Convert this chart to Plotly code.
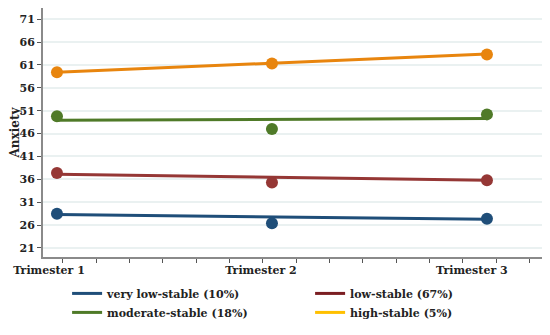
import plotly.graph_objects as go

trimesters = [1, 2, 3]
tick_labels = ["Trimester 1", "Trimester 2", "Trimester 3"]
series_names = ["very low-stable (10%)", "low-stable (67%)", "moderate-stable (18%)", "high-stable (5%)"]

observed_very_low = [28.5, 26.4, 27.4]
observed_low = [37.4, 35.3, 35.8]
observed_moderate = [49.8, 47.0, 50.2]
observed_high = [59.4, 61.3, 63.3]

fitted_very_low = [28.3, 27.8, 27.3]
fitted_low = [37.1, 36.45, 35.8]
fitted_moderate = [48.9, 49.1, 49.3]
fitted_high = [59.4, 61.4, 63.4]

colors = ["#1F4E79", "#953735", "#4F7A28", "#E8850E"]
legend_colors = ["#1F4E79", "#7B1E22", "#4F7A28", "#FFC000"]

observed = [observed_very_low, observed_low, observed_moderate, observed_high]
fitted = [fitted_very_low, fitted_low, fitted_moderate, fitted_high]

font_family = "DejaVu Serif"
txt = "#222222"

fig = go.Figure()
for name, obs, fit, c, lc in zip(series_names, observed, fitted, colors, legend_colors):
    fig.add_trace(go.Scatter(x=trimesters, y=fit, mode="lines",
                             line=dict(color=c, width=3), showlegend=False, hoverinfo="skip"))
    fig.add_trace(go.Scatter(x=trimesters, y=obs, mode="markers",
                             marker=dict(color=c, size=12), showlegend=False))
    fig.add_trace(go.Scatter(x=[None], y=[None], mode="lines", name=name,
                             line=dict(color=lc, width=3), showlegend=True))

fig.update_layout(
    width=550, height=335,
    margin=dict(l=35, r=13, t=0, b=86, autoexpand=False),
    plot_bgcolor="white", paper_bgcolor="white",
    font=dict(family=font_family, size=11, color=txt, weight="bold"),
    showlegend=True,
    legend=dict(orientation="h", x=0.048, y=-0.088, xanchor="left", yanchor="top",
                entrywidth=198, font=dict(family=font_family, size=11, color=txt, weight="bold"),
                itemwidth=30, tracegroupgap=0, traceorder="normal"),
)
fig.update_xaxes(
    range=[0.935, 3.27],
    tickvals=[0.963, 1.949, 2.93], ticktext=tick_labels,
    ticks="", showgrid=False, zeroline=False,
    showline=True, linecolor="#8A8A8A", linewidth=2,
    tickfont=dict(family=font_family, size=11, color=txt, weight="bold"),
    ticklabelstandoff=2,
    minor=dict(ticks="outside", ticklen=4, tickcolor="#555555", tick0=1.028, dtick=0.155, showgrid=False),
)
fig.update_yaxes(
    range=[19.03, 73.45],
    tick0=21, dtick=5,
    ticks="outside", ticklen=4, tickcolor="#555555",
    showgrid=True, gridcolor="#EAF1F1", gridwidth=1.5, zeroline=False,
    showline=True, linecolor="#8A8A8A", linewidth=2,
    tickfont=dict(family=font_family, size=11, color=txt, weight="bold"),
    title=dict(text="Anxiety", font=dict(family=font_family, size=12, color=txt, weight="bold"), standoff=9),
)

fig.write_html("out.html")
